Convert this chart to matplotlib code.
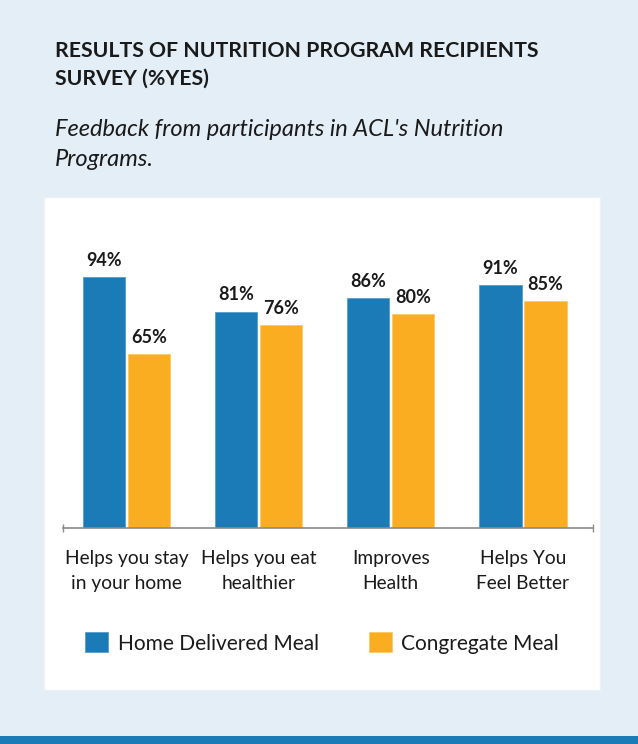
import matplotlib
matplotlib.use("Agg")
import matplotlib.pyplot as plt
import numpy as np
from matplotlib.patches import Rectangle

# data
categories = ["Helps you stay\nin your home", "Helps you eat\nhealthier",
              "Improves\nHealth", "Helps You\nFeel Better"]
home_delivered = [94, 81, 86, 91]
congregate = [65, 76, 80, 85]
series_names = ["Home Delivered Meal", "Congregate Meal"]

BLUE = "#1b7bb7"
ORANGE = "#fbad21"
BG = "#e3eef6"
INK = "#1a1a1a"

plt.rcParams["font.family"] = ["Lato", "DejaVu Sans"]

W, H = 638, 744
fig = plt.figure(figsize=(W / 100, H / 100), dpi=100)
fig.patch.set_facecolor(BG)

def fx(px):
    return px / W

def fy(py):
    return 1 - py / H

# white panel and bottom band
fig.add_artist(Rectangle((fx(44), fy(690)), fx(600) - fx(44), fy(197) - fy(690),
                         transform=fig.transFigure, facecolor="white",
                         edgecolor="#edf2f6", lw=1, zorder=0))
fig.add_artist(Rectangle((0, 0), 1, fy(736), transform=fig.transFigure,
                         facecolor=BLUE, edgecolor="none", zorder=0))

# title / subtitle
fig.text(fx(55), fy(51), "RESULTS OF NUTRITION PROGRAM RECIPIENTS", fontsize=15.3,
         fontweight="bold", color=INK, va="center", ha="left")
fig.text(fx(55), fy(79), "SURVEY (%YES)", fontsize=15.3,
         fontweight="bold", color=INK, va="center", ha="left")
fig.text(fx(55), fy(129), "Feedback from participants in ACL's Nutrition",
         fontsize=17, style="italic", color=INK, va="center", ha="left")
fig.text(fx(55), fy(159), "Programs.",
         fontsize=17, style="italic", color=INK, va="center", ha="left")

# chart axes
ax = fig.add_axes([fx(63), fy(528), fx(593) - fx(63), fy(261) - fy(528)])
ax.set_facecolor("none")
x = np.arange(len(categories))
bw = 0.32
off = 0.17
b1 = ax.bar(x - off, home_delivered, bw, color=BLUE, edgecolor="#5a9ccb", lw=0.6,
            label=series_names[0])
b2 = ax.bar(x + off, congregate, bw, color=ORANGE, edgecolor="#fcc864", lw=0.6,
            label=series_names[1])
for bars in (b1, b2):
    ax.bar_label(bars, labels=[f"{v}%" for v in bars.datavalues], padding=6,
                 fontsize=13, fontweight="bold", color=INK)

ax.set_xlim(-0.48, 3.53)
ax.set_ylim(0, 100)
ax.set_yticks([])
for s in ("left", "right", "top"):
    ax.spines[s].set_visible(False)
ax.spines["bottom"].set_color("#8a8a8a")
ax.spines["bottom"].set_linewidth(1.2)
ax.set_xticks(x)
ax.set_xticklabels(categories, fontsize=13.8, color=INK, linespacing=1.55)
ax.tick_params(axis="x", which="major", length=0, pad=16)
ax.set_xticks([-0.48, 3.53], minor=True)
ax.tick_params(axis="x", which="minor", length=6, direction="inout",
               color="#8a8a8a", width=1)

# legend
fig.legend(handles=[b1, b2], labels=series_names, loc="center",
           bbox_to_anchor=(fx(322), fy(643)), ncol=2, frameon=False,
           fontsize=15, handlelength=1.1, handleheight=1.1,
           handletextpad=0.45, columnspacing=2.4, labelcolor=INK)

fig.savefig("out.png", dpi=100, facecolor=BG)
